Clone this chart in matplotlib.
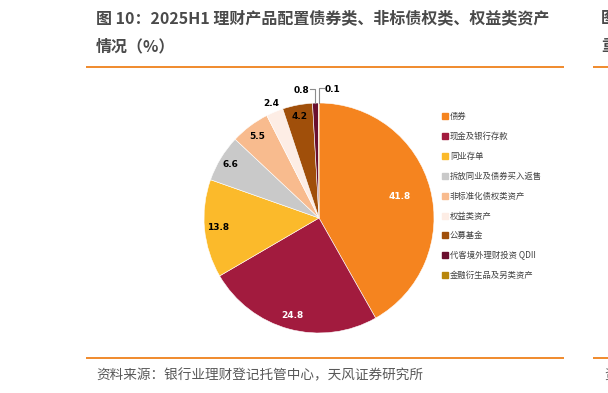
import matplotlib.pyplot as plt
import numpy as np
from matplotlib.lines import Line2D

plt.rcParams['font.family'] = ['Noto Sans CJK SC', 'DejaVu Sans']

# data
labels = ['债券', '现金及银行存款', '同业存单', '拆放同业及债券买入返售', '非标准化债权类资产',
          '权益类资产', '公募基金', '代客境外理财投资 QDII', '金融衍生品及另类资产']
values = [41.8, 24.8, 13.8, 6.6, 5.5, 2.4, 4.2, 0.8, 0.1]
colors = ['#F5841F', '#A21B3E', '#FBBA2B', '#C9C9C9', '#F8BB8E',
          '#FDEDE5', '#A04F0A', '#6A0F2E', '#B8860B']
label_r = [0.73, 0.88, 0.88, 0.9, 0.89, 1.08, 0.9, None, None]
label_col = ['white', 'white', 'black', 'black', 'black', 'black', 'black', 'black', 'black']

W, H = 608, 393
fig = plt.figure(figsize=(W / 100, H / 100), dpi=100)
ax = fig.add_axes([0, 0, 1, 1])

cx, cy, R = 319, H - 218, 115
wedges, _ = ax.pie(values, colors=colors, startangle=90, counterclock=False,
                   center=(cx, cy), radius=R, frame=True,
                   wedgeprops=dict(edgecolor='white', linewidth=0.4))
ax.set_xlim(0, W)
ax.set_ylim(0, H)
ax.set_aspect('equal')
ax.axis('off')

for w, v, r, c in zip(wedges, values, label_r, label_col):
    if r is None:
        continue
    mid = np.deg2rad((w.theta1 + w.theta2) / 2)
    ax.text(cx + r * R * np.cos(mid), cy + r * R * np.sin(mid), f'{v:.1f}',
            ha='center', va='center', fontsize=6.5, fontweight='bold', color=c,
            family=['DejaVu Sans'])

# small slices with leader lines
for w, v, side in [(wedges[7], values[7], -1), (wedges[8], values[8], 1)]:
    mid = np.deg2rad((w.theta1 + w.theta2) / 2)
    x0, y0 = cx + R * np.cos(mid), cy + R * np.sin(mid)
    ytop = H - 88 if side > 0 else H - 89
    ax.plot([x0, x0, x0 + side * 5], [y0, ytop, ytop], color='#8C8C8C', lw=0.8)
    ax.text(x0 + side * 6, ytop - 1.5, f'{v:.1f}', ha='left' if side > 0 else 'right',
            va='center', fontsize=6.5, fontweight='bold', color='black',
            family=['DejaVu Sans'])

handles = [Line2D([], [], marker='s', linestyle='none', markersize=4.5,
                  markerfacecolor=c, markeredgecolor=c) for c in colors]
leg = ax.legend(handles, labels, loc='upper left', bbox_to_anchor=(439 / W, 1 - 109 / H),
                frameon=False, fontsize=6, handlelength=0.6, handletextpad=0.3,
                labelspacing=1.3, borderaxespad=0)
for t in leg.get_texts():
    t.set_color('#404040')

# title, rules, source
tkw = dict(fontsize=11.5, fontweight='bold', color='#4A4A4A', va='center')
fig.text(96 / W, 1 - 18 / H, '图 10：2025H1 理财产品配置债券类、非标债权类、权益类资产', **tkw)
fig.text(96 / W, 1 - 46 / H, '情况（%）', **tkw)
fig.text(601 / W, 1 - 18 / H, '图', **tkw)
fig.text(601 / W, 1 - 46 / H, '重', **tkw)

for y in (67, 358):
    ax.plot([86, 564], [H - y, H - y], color='#F08A2C', lw=1.4, solid_capstyle='butt')
    ax.plot([593, 608], [H - y, H - y], color='#F08A2C', lw=1.4, solid_capstyle='butt')

fig.text(96 / W, 1 - 375 / H, '资料来源：银行业理财登记托管中心，天风证券研究所',
         fontsize=9.8, color='#595959', va='center')
fig.text(604 / W, 1 - 375 / H, '资', fontsize=9.8, color='#595959', va='center')

fig.savefig('out.png', dpi=100)
